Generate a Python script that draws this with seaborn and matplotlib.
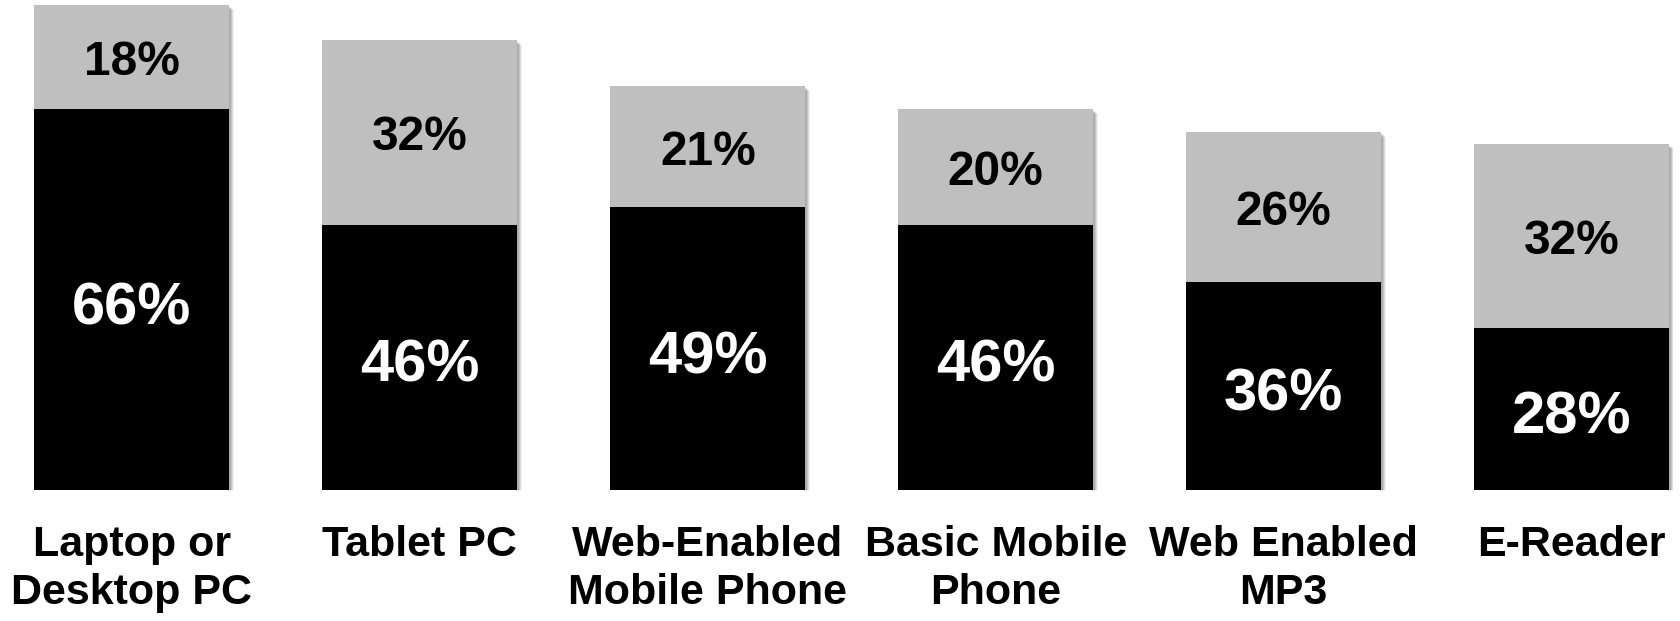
import matplotlib
matplotlib.use("Agg")
import matplotlib.pyplot as plt
import matplotlib.patheffects as pe
import seaborn as sns
import pandas as pd

categories = ["Laptop or\nDesktop PC", "Tablet PC", "Web-Enabled\nMobile Phone",
              "Basic Mobile\nPhone", "Web Enabled\nMP3", "E-Reader"]
primary = [66, 46, 49, 46, 36, 28]     # black segment
secondary = [18, 32, 21, 20, 26, 32]   # grey segment stacked on top

sns.set_theme(style="white")
plt.rcParams["font.family"] = ["Liberation Sans", "DejaVu Sans"]
plt.rcParams["font.weight"] = "bold"

df = pd.DataFrame({"cat": categories, "primary": primary, "secondary": secondary})
df["total"] = df["primary"] + df["secondary"]

fig = plt.figure(figsize=(16.81, 6.21), dpi=100)
ax = fig.add_axes([0, 131 / 621, 1, 490 / 621])

bar_w = 0.677
sns.barplot(data=df, x="cat", y="total", color="#BFBFBF", saturation=1,
            width=bar_w, ax=ax, linewidth=0)
n_grey = len(ax.patches)
# soft drop shadow on the outer bars
shadow = [pe.SimplePatchShadow(offset=(o, -o), shadow_rgbFace="black", alpha=a)
          for o, a in [(3.2, 0.06), (2.6, 0.08), (2.0, 0.10), (1.4, 0.12)]]
for p in ax.patches[:n_grey]:
    p.set_path_effects(shadow + [pe.Normal()])

sns.barplot(data=df, x="cat", y="primary", color="#000000", saturation=1,
            width=bar_w, ax=ax, linewidth=0)

for i, (a, b) in enumerate(zip(primary, secondary)):
    ax.annotate(f"{a}%", xy=(i, a / 2), xytext=(0, -6.5), textcoords="offset points",
                ha="center", va="center", color="white", fontsize=43, fontweight="bold")
    ax.annotate(f"{b}%", xy=(i, a + b / 2), xytext=(0, -4), textcoords="offset points",
                ha="center", va="center", color="black", fontsize=34.5, fontweight="bold")
    ax.annotate(categories[i], xy=(i, 0), xycoords=("data", "axes fraction"),
                xytext=(0, -25.5), textcoords="offset points",
                ha="center", va="top", color="black", fontsize=31,
                fontweight="bold", linespacing=1.23)

ax.set_xlim(-0.458, 5.380)
ax.set_ylim(0, 84.95)
ax.set_xlabel("")
ax.set_ylabel("")
ax.set_xticks([])
ax.set_yticks([])
for s in ax.spines.values():
    s.set_visible(False)
ax.patch.set_alpha(0)

fig.savefig("out.png", dpi=100)
